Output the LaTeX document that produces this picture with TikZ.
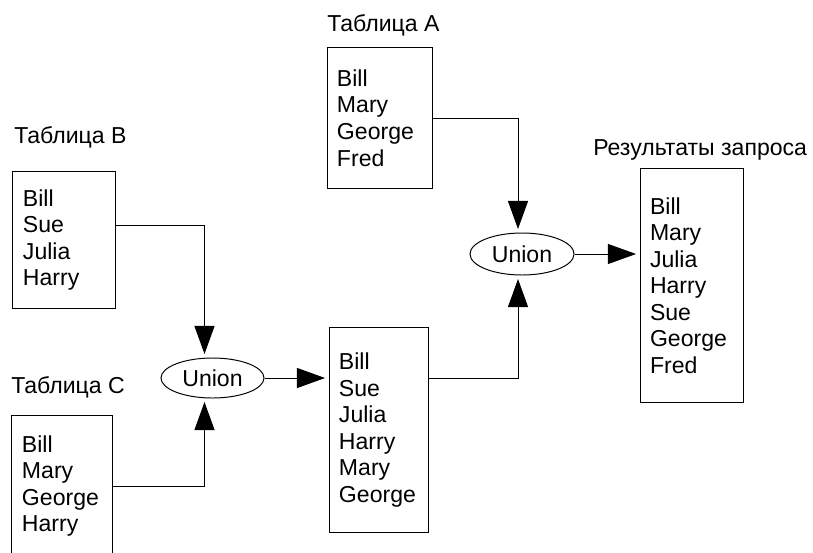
\documentclass[tikz,border=0pt]{standalone}
\usepackage{fontspec}
\setmainfont{Liberation Sans}
\usetikzlibrary{arrows.meta, shapes.geometric}

\begin{document}
\begin{tikzpicture}[x=0.025cm, y=-0.025cm,
  every node/.style={font=\fontsize{16.4}{18.85}\selectfont},
  tablebox/.style={draw, line width=0.7pt, align=left, inner xsep=0.25cm, inner ysep=0pt},
  caption/.style={anchor=west, inner sep=0pt},
  unionop/.style={draw, ellipse, line width=0.7pt, inner sep=0pt},
  flow/.style={line width=0.7pt, -{Triangle[length=0.7cm, width=0.5cm]}, shorten >=2.5pt}]
\useasboundingbox (0,0) rectangle (813,552);

% source tables
\node[caption] (capA) at (327,25) {Таблица A};
\node[tablebox, text width=2.125cm, minimum height=3.5cm] (tabA) at (379.5,118) {Bill\\Mary\\George\\Fred};
\node[caption] (capB) at (14,137) {Таблица B};
\node[tablebox, text width=2.05cm, minimum height=3.4cm] (tabB) at (64,240) {Bill\\Sue\\Julia\\Harry};
\node[caption] (capC) at (11,387) {Таблица C};
\node[tablebox, text width=2.0cm, minimum height=3.5cm] (tabC) at (62,486) {Bill\\Mary\\George\\Harry};

% unions
\node[unionop, minimum width=2.575cm, minimum height=1.0cm] (unionBC) at (212.5,378) {Union};
\node[tablebox, text width=1.975cm, minimum height=5.1cm] (tabBC) at (378.5,430) {Bill\\Sue\\Julia\\Harry\\Mary\\George};
\node[unionop, minimum width=2.6cm, minimum height=1.05cm] (unionA) at (522,254) {Union};

% result
\node[caption] (capR) at (593,150) {Результаты запроса};
\node[tablebox, text width=2.075cm, minimum height=5.825cm] (result) at (691.5,285.5) {Bill\\Mary\\Julia\\Harry\\Sue\\George\\Fred};

% connectors
\draw[flow] ([yshift=0.375cm]tabB.east) -| ([xshift=-0.2cm]unionBC.north);
\draw[flow] (tabC.east) -| ([xshift=-0.2cm]unionBC.south);
\draw[flow] (unionBC.east) -- (unionBC.east -| tabBC.west);
\draw[flow] (tabBC.east |- unionBC.east) -| ([xshift=-0.1cm]unionA.south);
\draw[flow] (tabA.east) -| ([xshift=-0.1cm]unionA.north);
\draw[flow] (unionA.east) -- (unionA.east -| result.west);
\end{tikzpicture}
\end{document}
